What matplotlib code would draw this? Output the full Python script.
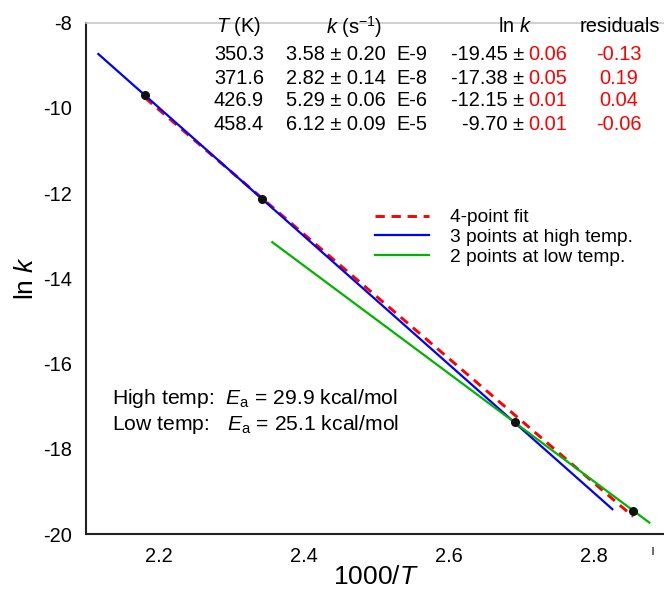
import numpy as np
import matplotlib
matplotlib.use("Agg")
import matplotlib.pyplot as plt
from matplotlib.transforms import blended_transform_factory

plt.rcParams['font.family'] = ['Liberation Sans', 'DejaVu Sans']
plt.rcParams['mathtext.fontset'] = 'custom'
plt.rcParams['mathtext.rm'] = 'Liberation Sans'
plt.rcParams['mathtext.it'] = 'Liberation Sans:italic'
plt.rcParams['mathtext.bf'] = 'Liberation Sans:bold'

# ---- data ----
T_K = [350.3, 371.6, 426.9, 458.4]
k_mant = ["3.58 \u00b1 0.20", "2.82 \u00b1 0.14", "5.29 \u00b1 0.06", "6.12 \u00b1 0.09"]
k_exp = ["E-9", "E-8", "E-6", "E-5"]
lnk = [-19.45, -17.38, -12.15, -9.70]
lnk_err = ["0.06", "0.05", "0.01", "0.01"]
residuals = ["-0.13", "0.19", "0.04", "-0.06"]
Ea_high = 29.9
Ea_low = 25.1

# x-extents of fitted lines
fit4_range = [2.1815, 2.8547]
high_range = [2.117, 2.826]
low_range = [2.357, 2.877]

xticks = [2.2, 2.4, 2.6, 2.8]
yticks = [-8, -10, -12, -14, -16, -18, -20]

x = 1000.0 / np.array(T_K)
y = np.array(lnk)

p4 = np.polyfit(x, y, 1)
ph = np.polyfit(x[1:], y[1:], 1)
pl = np.polyfit(x[:2], y[:2], 1)

W, H = 664, 592
fig = plt.figure(figsize=(W / 100, H / 100), dpi=100)
ax = fig.add_axes([86 / W, (H - 534) / H, 580 / W, 511.5 / H])

fs = 14.4
xr = np.array(fit4_range)
ax.plot(xr, np.polyval(p4, xr), color='#ff0000', lw=2.1, ls=(0, (3.2, 2.3)),
        label='4-point fit', zorder=2)
xr = np.array(high_range)
ax.plot(xr, np.polyval(ph, xr), color='#0000ff', lw=1.6,
        label='3 points at high temp.', zorder=3)
xr = np.array(low_range)
ax.plot(xr, np.polyval(pl, xr), color='#00b400', lw=1.6,
        label='2 points at low temp.', zorder=4)
ax.plot(x, y, 'o', color='#111111', ms=5.5, zorder=5)

ax.set_xlim(2.1, 2.9)
ax.set_ylim(-20, -8)
ax.set_xticks(xticks)
ax.set_xticklabels([f"{v:.1f}" for v in xticks])
ax.set_yticks(yticks)
ax.set_yticklabels([f"{v:d}" for v in yticks])
ax.tick_params(axis='both', length=0, labelsize=fs)
ax.tick_params(axis='x', pad=9)
ax.tick_params(axis='y', pad=10)
for s in ['left', 'bottom']:
    ax.spines[s].set_linewidth(1.5)
    ax.spines[s].set_color('#222222')
ax.spines['top'].set_color('#c8c8c8')
ax.spines['top'].set_linewidth(1.2)
ax.spines['right'].set_visible(False)

ax.set_xlabel(r'1000/$T$', fontsize=19, labelpad=0)
ax.set_ylabel(r'ln $k$', fontsize=19, labelpad=4)

# stray tick glyph under the axis
tb = blended_transform_factory(ax.transData, fig.transFigure)
ax.text(2.882, 1 - 551 / H, '\u0131', transform=tb, fontsize=10, ha='center',
        va='center', color='#222222')

leg = ax.legend(loc='upper left', bbox_to_anchor=(375 / W, 1 - 209 / H),
                bbox_transform=fig.transFigure, frameon=False, fontsize=13.8,
                handlelength=2.8, handletextpad=1.1, labelspacing=0.12,
                borderpad=0, borderaxespad=0)

# table
def fx(px):
    return px / W

def fy(py):
    return 1 - py / H

hy = 24
fig.text(fx(239), fy(hy), r'$T$ (K)', fontsize=fs, ha='center', va='center_baseline')
fig.text(fx(354), fy(hy), r'$k$ (s$^{\mathrm{-1}}$)', fontsize=fs, ha='center', va='center_baseline')
fig.text(fx(515), fy(hy), r'ln $k$', fontsize=fs, ha='center', va='center_baseline')
fig.text(fx(620), fy(hy), 'residuals', fontsize=fs, ha='center', va='center_baseline')

row_y = [52, 76, 99, 122]
for i in range(4):
    ry = fy(row_y[i])
    fig.text(fx(239), ry, f"{T_K[i]:.1f}", fontsize=fs, ha='center', va='center_baseline')
    fig.text(fx(386), ry, k_mant[i], fontsize=fs, ha='right', va='center_baseline')
    fig.text(fx(396), ry, k_exp[i], fontsize=fs, ha='left', va='center_baseline')
    fig.text(fx(524), ry, f"{lnk[i]:.2f} \u00b1", fontsize=fs, ha='right', va='center_baseline')
    fig.text(fx(528), ry, lnk_err[i], fontsize=fs, ha='left', va='center_baseline', color='#ff0000')
    fig.text(fx(619), ry, residuals[i], fontsize=fs, ha='center', va='center_baseline', color='#ff0000')

fe = 15.2
fig.text(fx(112), fy(396), r'High temp:  $E_{\mathrm{a}}$ = ' + f'{Ea_high:.1f} kcal/mol',
         fontsize=fe, ha='left', va='center_baseline')
fig.text(fx(112), fy(421), r'Low temp:   $E_{\mathrm{a}}$ = ' + f'{Ea_low:.1f} kcal/mol',
         fontsize=fe, ha='left', va='center_baseline')

fig.savefig('out.png', dpi=100)
